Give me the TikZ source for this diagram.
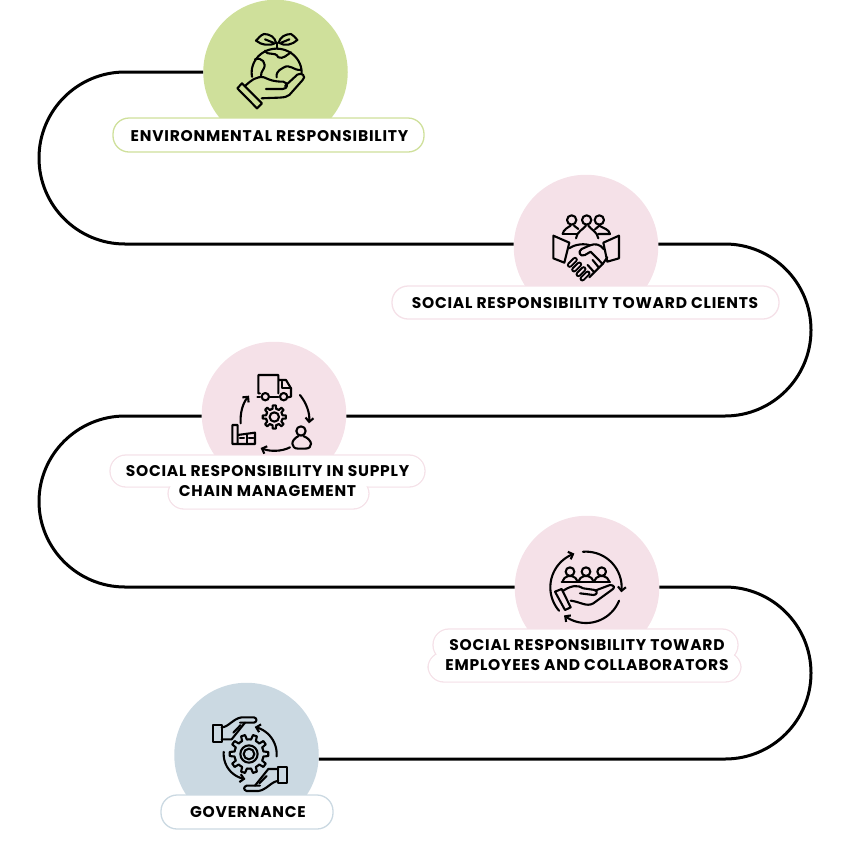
\documentclass[tikz,border=0pt]{standalone}
\usepackage{fontspec}
\setmainfont[LetterSpace=5]{Poppins}
\usetikzlibrary{arrows.meta,backgrounds}
\definecolor{cgreen}{HTML}{CFE09B}
\definecolor{cpink}{HTML}{F5E1E8}
\definecolor{cblue}{HTML}{CBD9E2}
\tikzset{
  x=1pt,y=-1pt,
  disc/.style={circle,minimum size=144.5pt,inner sep=0pt,fill=#1},
  pill/.style={draw=#1,line width=1.3pt,fill=white,rounded corners=16pt,inner sep=0pt},
  pillin/.style={fill=white,rounded corners=15pt,inner sep=0pt},
  lab/.style={font=\fontsize{15.5}{19.2}\selectfont\bfseries,align=center,inner sep=0pt,text=black},
  road/.style={line width=3pt,black},
  ico/.style={line width=2.1pt,black,line join=round,line cap=round},
  arr/.style={ico,-{Straight Barb[length=4pt,width=8pt,line width=2.1pt]}},
  zoomed/.style={x=0.3333pt,y=-0.3333pt}
}
\newcommand{\gearico}[5]{% cx cy R r n
  \pgfmathsetmacro{\stp}{360/#5}
  \foreach \k in {1,...,#5}{
    \pgfmathsetmacro{\a}{\k*\stp}
    \draw[ico] ({#1+#4*cos(\a-.5*\stp)},{#2+#4*sin(\a-.5*\stp)})
      -- ({#1+#4*cos(\a-.27*\stp)},{#2+#4*sin(\a-.27*\stp)})
      -- ({#1+#3*cos(\a-.17*\stp)},{#2+#3*sin(\a-.17*\stp)})
      -- ({#1+#3*cos(\a+.17*\stp)},{#2+#3*sin(\a+.17*\stp)})
      -- ({#1+#4*cos(\a+.27*\stp)},{#2+#4*sin(\a+.27*\stp)})
      -- ({#1+#4*cos(\a+.5*\stp)},{#2+#4*sin(\a+.5*\stp)});
  }}
\begin{document}
\begin{tikzpicture}
\useasboundingbox (0,0) rectangle (850,841);
% discs
\node[disc=cgreen] (c1) at (275.5,72) {};
\node[disc=cpink] (c2) at (586,247) {};
\node[disc=cpink] (c3) at (274,414) {};
\node[disc=cpink] (c4) at (587,588) {};
\node[disc=cblue] (c5) at (246.5,755) {};
% road
\draw[road] (c1.west) -- (125,72)
  .. controls (77.5,72) and (39,110.5) .. (39,158)
  .. controls (39,205.5) and (77.5,244) .. (125,244)
  -- ([yshift=3pt]c2.west);
\draw[road] ([yshift=3pt]c2.east) -- (725,244)
  .. controls (772.5,244) and (811,282.5) .. (811,330)
  .. controls (811,377.5) and (772.5,416) .. (725,416)
  -- ([yshift=-2pt]c3.east);
\draw[road] ([yshift=-2pt]c3.west) -- (125,416)
  .. controls (77.5,416) and (39,454.5) .. (39,501.5)
  .. controls (39,548.5) and (77.5,587) .. (125,587)
  -- ([yshift=1pt]c4.west);
\draw[road] ([yshift=1pt]c4.east) -- (725,587)
  .. controls (772.5,587) and (811,625.5) .. (811,673)
  .. controls (811,720.5) and (772.5,759) .. (725,759)
  -- ([yshift=-4pt]c5.east);
% pills
\node[pill=cgreen,minimum width=311pt,minimum height=34pt] (p1) at (268.5,135) {};
\node[lab] (t1) at (269.5,136) {ENVIRONMENTAL RESPONSIBILITY};
\node[pill=cpink,minimum width=387pt,minimum height=33pt] (p2) at (585.5,302.5) {};
\node[lab] (t2) at (585,303) {SOCIAL RESPONSIBILITY TOWARD CLIENTS};
\node[pill=cpink,minimum width=315pt,minimum height=32pt] (p3a) at (267.5,471) {};
\node[pill=cpink,minimum width=201pt,minimum height=31pt] (p3b) at (268.5,493.5) {};
\node[pillin,minimum width=313.5pt,minimum height=30.5pt] (p3c) at (267.5,471) {};
\node[pillin,minimum width=199.5pt,minimum height=29.5pt] (p3d) at (268.5,493.5) {};
\node[lab] (t3) at (267.5,481) {SOCIAL RESPONSIBILITY IN SUPPLY\\CHAIN MANAGEMENT};
\node[pill=cpink,minimum width=305pt,minimum height=32pt] (p4a) at (585.5,645) {};
\node[pill=cpink,minimum width=313pt,minimum height=30pt] (p4b) at (584.5,667) {};
\node[pillin,minimum width=303.5pt,minimum height=30.5pt] (p4c) at (585.5,645) {};
\node[pillin,minimum width=311.5pt,minimum height=28.5pt] (p4d) at (584.5,667) {};
\node[lab] (t4) at (587,655) {SOCIAL RESPONSIBILITY TOWARD\\EMPLOYEES AND COLLABORATORS};
\node[pill=cblue,minimum width=172pt,minimum height=34pt] (p5) at (247,812) {};
\node[lab] (t5) at (248,812) {GOVERNANCE};
% icon 1
\begin{scope}[shift={(190,0)},zoomed]
 \draw[ico] (262,145) -- (262,128);
 \draw[ico] (258,128) .. controls (255,112) and (240,102) .. (222,102) .. controls (212,105) and (205,115) .. (198,122) .. controls (212,134) and (240,140) .. (258,128);
 \draw[ico] (266,128) .. controls (270,112) and (285,102) .. (303,102) .. controls (312,105) and (316,115) .. (322,120) .. controls (308,134) and (284,140) .. (266,128);
 \draw[ico] (225,118) -- (250,128) (298,118) -- (274,128);
 \draw[ico] plot[domain=190:-3,samples=40] ({260+75*cos(\x)},{218-72*sin(\x)});
 \draw[ico] (225,152) .. controls (235,170) and (255,152) .. (265,172) .. controls (280,178) and (290,165) .. (303,157);
 \draw[ico] (195,178) .. controls (215,170) and (232,190) .. (220,208) .. controls (215,215) and (213,220) .. (213,228);
 \draw[ico] (333,210) .. controls (310,212) and (300,190) .. (280,203) .. controls (262,212) and (258,222) .. (260,232);
 \draw[ico] (142,265) -- (156,250) -- (216,310) -- (201,325) -- cycle;
 \draw[ico] (165,258) .. controls (185,240) and (200,228) .. (222,232) .. controls (240,240) and (250,245) .. (280,245) .. controls (295,248) and (295,267) .. (278,267) -- (228,267);
 \draw[ico] (285,258) -- (322,224) .. controls (335,215) and (350,230) .. (338,240) -- (298,285) .. controls (285,295) and (270,292) .. (215,295);
\end{scope}
% icon 2
\begin{scope}[shift={(500,170)},zoomed]
 \foreach \h in {215,260,298} \draw[ico] (\h,150) circle[radius=14];
 \draw[ico] (188,192) .. controls (190,178) and (205,172) .. (212,167) (222,167) -- (235,177);
 \draw[ico] (188,192) -- (232,192);
 \draw[ico] (228,205) .. controls (230,185) and (250,178) .. (258,167) (265,167) .. controls (272,178) and (292,185) .. (295,205);
 \draw[ico] (285,178) -- (298,167) .. controls (310,175) and (328,178) .. (330,192) -- (295,192);
 \draw[ico] (160,197) -- (208,218) -- (193,278) -- (160,265) -- cycle;
 \draw[ico] (357,197) -- (310,218) -- (322,275) -- (357,265) -- cycle;
 \draw[ico] (208,235) .. controls (225,222) and (255,220) .. (270,226) .. controls (285,220) and (300,222) .. (312,238);
 \draw[ico] (270,226) -- (245,237) .. controls (232,245) and (240,262) .. (255,255) -- (272,245) -- (308,282);
 \draw[ico] (322,262) -- (308,282) -- (268,322);
 \draw[ico] (296,292) -- (278,270) (282,306) -- (263,285);
 \foreach \cx/\cy in {217/277,230/291,243/305,255/318} {
  \draw[line width=5.6pt,black,line cap=round] (\cx-8,\cy+8) -- (\cx+8,\cy-8);
  \draw[line width=1.6pt,cpink,line cap=round] (\cx-8,\cy+8) -- (\cx+8,\cy-8);}
\end{scope}
% icon 3
\begin{scope}[shift={(100,340)},zoomed]
 \draw[ico] (480,160) -- (475,160) -- (475,105) -- (535,105) -- (535,160) (535,120) -- (558,120) -- (573,145) -- (573,170) -- (565,172);
 \draw[ico] (510,172) -- (535,172) (480,172) -- (472,172);
 \draw[ico] (545,125) -- (545,145) -- (573,145);
 \draw[ico] (496,170) circle[radius=11] (551,170) circle[radius=11];
 \draw[arr] (600,165) .. controls (620,190) and (630,220) .. (627,250);
 \draw[arr] (570,322) .. controls (545,335) and (510,335) .. (482,324);
 \draw[arr] (422,250) .. controls (420,220) and (428,190) .. (447,167);
 \gearico{523}{231}{35}{25}{8}
 \draw[ico] (523,231) circle[radius=14];
 \draw[ico] (603,273) circle[radius=14];
 \draw[ico] (596,288) .. controls (570,300) and (572,326) .. (595,326) -- (615,326) .. controls (640,326) and (640,300) .. (610,288);
 \draw[ico] (397,312) -- (397,255) -- (413,255) -- (413,312) (397,312) -- (465,312) -- (465,278) -- (413,285);
 \draw[ico] (440,285) -- (440,312);
 \draw[ico] (420,295) -- (432,295) (447,295) -- (460,295);
\end{scope}
% icon 4
\begin{scope}[shift={(500,510)},zoomed]
 \draw[arr] plot[domain=221:109,samples=30] ({258+107*cos(\x)},{232-107*sin(\x)});
 \draw[arr] plot[domain=95:-8,samples=30] ({258+107*cos(\x)},{232-107*sin(\x)});
 \draw[arr] plot[domain=-22:-128,samples=30] ({258+107*cos(\x)},{232-107*sin(\x)});
 \foreach \h in {210,258,305} {
  \draw[ico] (\h,185) circle[radius=13];
  \draw[ico] (\h-22,213) .. controls (\h-22,203) and (\h-12,203) .. (\h-5,198) -- (\h+5,198) .. controls (\h+12,203) and (\h+22,203) .. (\h+22,213);}
 \draw[ico] (185,216) -- (330,216);
 \draw[ico] (165,245) -- (185,237) -- (212,292) -- (195,300) -- cycle;
 \draw[ico] (190,242) .. controls (215,225) and (235,225) .. (250,235) -- (285,240) .. controls (295,245) and (290,255) .. (280,255) -- (240,250);
 \draw[ico] (285,242) -- (330,225) .. controls (345,225) and (345,235) .. (335,240) -- (280,280) .. controls (260,292) and (240,275) .. (212,272);
\end{scope}
% icon 5
\begin{scope}[shift={(150,680)},zoomed]
 \gearico{297}{222}{58}{44}{10}
 \draw[ico] (297,222) circle[radius=26];
 \draw[ico] (297,222) circle[radius=16];
 \draw[ico] (188,135) -- (215,135) -- (215,185) -- (188,185) -- cycle;
 \draw[ico] (215,142) .. controls (235,142) and (250,115) .. (275,112) -- (312,112) .. controls (322,115) and (322,125) .. (312,128) -- (270,128);
 \draw[ico] (215,178) -- (245,178) -- (285,128);
 \draw[ico] (250,158) -- (272,135);
 \draw[ico] (385,260) -- (412,260) -- (412,310) -- (385,310) -- cycle;
 \draw[ico] (385,303) .. controls (365,303) and (350,330) .. (325,333) -- (290,333) .. controls (280,330) and (280,320) .. (290,317) -- (330,317);
 \draw[ico] (385,267) -- (355,267) -- (315,317);
 \draw[ico] (350,288) -- (328,310);
 \draw[arr] plot[domain=-5:78,samples=24] ({297+83*cos(\x)},{222-83*sin(\x)});
 \draw[arr] plot[domain=175:262,samples=24] ({297+76*cos(\x)},{222-76*sin(\x)});
\end{scope}
\end{tikzpicture}
\end{document}
